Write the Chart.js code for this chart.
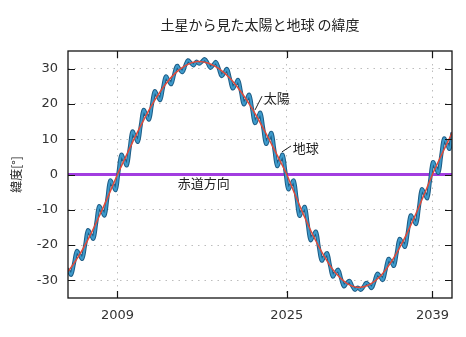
<!DOCTYPE html>
<html lang="ja">
<head>
<meta charset="utf-8">
<title>土星から見た太陽と地球の緯度</title>
<script src="https://cdn.jsdelivr.net/npm/chart.js@4.4.0/dist/chart.umd.min.js"></script>
<style>
  html, body { margin: 0; padding: 0; background: #fff; }
  #wrap { width: 466px; height: 337px; }
</style>
</head>
<body>
<div id="wrap"><canvas id="chart" width="466" height="337"></canvas></div>
<script>
// 太陽の緯度（土星の赤道基準）[年, 度]
const sunYears = [2004, 2005, 2006, 2007, 2008, 2009, 2009.6, 2010, 2011, 2012, 2013, 2014, 2015, 2016, 2017,
  2018, 2019, 2020, 2021, 2022, 2023, 2024, 2025, 2025.35, 2026, 2027, 2028, 2029, 2030, 2031, 2032,
  2033, 2034, 2035, 2036, 2037, 2038, 2038.9, 2039, 2040, 2041]
const sunLat = [-30.4, -27.5, -23.1, -17.6, -11.2, -4.3, 0, 2.6, 9.1, 15.2, 20.7, 25.3, 28.8, 31.0, 32.0,
  31.6, 30.1, 27.5, 23.8, 19.3, 14.0, 8.2, 2.2, 0, -4.8, -12.0, -18.5, -24.0, -28.3, -31.0, -32.0,
  -31.3, -29.0, -25.1, -19.9, -13.6, -6.6, 0, 0.7, 7.2, 13.5]

// 地球の緯度：会合周期の1/4ごと（衝・矩・合）
const earthStart = 2004.781
const earthStep = 0.2588
const earthLat = [
  -26.4, -27.3, -28.4, -25.2, -21.7, -22.8, -23.9, -20.0, -15.8, -17.0, -18.2, -13.7, -9.0, -10.3, -11.6, -6.7,
  -1.7, -3.0, -4.4, 0.7, 5.6, 4.1, 2.6, 7.4, 12.2, 10.7, 9.3, 13.9, 18.3, 16.9, 15.6, 19.7,
  23.6, 22.3, 21.1, 24.6, 27.8, 26.6, 25.6, 28.4, 30.8, 29.8, 29.0, 30.9, 32.4, 31.6, 30.9, 32.0,
  31.4, 32.0, 32.7, 31.6, 30.2, 31.0, 31.9, 30.1, 27.9, 28.8, 29.9, 27.3, 24.4, 25.5, 26.8, 23.5,
  19.9, 21.2, 22.6, 18.7, 14.6, 16.0, 17.5, 13.2, 8.7, 10.2, 11.8, 7.1, 2.4, 4.0, 5.6, 0.8,
  -4.2, -2.9, -1.7, -6.7, -11.7, -10.4, -9.2, -14.0, -18.6, -17.3, -16.2, -20.5, -24.4, -23.3, -22.3, -25.7,
  -28.9, -27.8, -27.0, -29.5, -31.7, -30.8, -30.1, -31.6, -32.7, -32.0, -32.7, -31.9, -30.7, -31.3, -32.2, -30.3,
  -28.1, -28.9, -29.9, -27.1, -23.9, -24.8, -25.9, -22.2, -18.3, -19.3, -20.5, -16.2, -11.6, -12.8, -14.0, -9.2,
  -4.2, -5.4, -6.7, -1.6, 3.5, 2.0, 0.5, 5.4, 10.2, 8.7, 7.3, 11.9, 16.5
]

// 赤道方向（緯度0）
const equatorYears = [2004, 2041]
const equatorLat = [0, 0]

// 目盛り：分点の時期に年を表示
const xTickYears = [2009.6, 2025.35, 2038.9]
const xTickLabels = ['2009', '2025', '2039']
const yTicks = [-30, -20, -10, 0, 10, 20, 30]

const sunPoints = sunYears.map((x, i) => ({ x: x, y: sunLat[i] }))
const earthPoints = earthLat.map((y, i) => ({ x: earthStart + i * earthStep, y: y }))
const equatorPoints = equatorYears.map((x, i) => ({ x: x, y: equatorLat[i] }))

const cjk = '"Noto Sans CJK JP", "Noto Sans", sans-serif'

// 枠・内向きの目盛り線・タイトルと注記
const decorations = {
  id: 'decorations',
  afterDraw(chart) {
    const { ctx, chartArea: a, scales: { x, y } } = chart
    ctx.save()
    ctx.strokeStyle = '#151515'
    ctx.lineWidth = 1.3
    ctx.strokeRect(a.left, a.top, a.right - a.left, a.bottom - a.top)

    ctx.lineWidth = 1.2
    ctx.beginPath()
    yTicks.forEach(v => {
      const py = Math.round(y.getPixelForValue(v)) + 0.5
      ctx.moveTo(a.left, py); ctx.lineTo(a.left + 7, py)
      ctx.moveTo(a.right, py); ctx.lineTo(a.right - 7, py)
    })
    xTickYears.forEach(v => {
      const px = Math.round(x.getPixelForValue(v)) + 0.5
      ctx.moveTo(px, a.bottom); ctx.lineTo(px, a.bottom - 7)
      ctx.moveTo(px, a.top); ctx.lineTo(px, a.top + 7)
    })
    ctx.stroke()

    ctx.fillStyle = '#222'
    ctx.font = '14px ' + cjk
    ctx.textAlign = 'center'
    ctx.textBaseline = 'middle'
    ctx.fillText('土星から見た太陽と地球 の緯度', (a.left + a.right) / 2, 25)

    ctx.save()
    ctx.translate(16, (a.top + a.bottom) / 2)
    ctx.rotate(-Math.PI / 2)
    ctx.font = '12px ' + cjk
    ctx.fillText('緯度[°]', 0, 0)
    ctx.restore()

    ctx.font = '13px ' + cjk
    ctx.textAlign = 'left'
    ctx.fillText('赤道方向', x.getPixelForValue(2015.2), y.getPixelForValue(-2.3))
    ctx.fillText('太陽', x.getPixelForValue(2023.2), y.getPixelForValue(21.7))
    ctx.fillText('地球', x.getPixelForValue(2025.9), y.getPixelForValue(7.5))

    ctx.strokeStyle = '#222'
    ctx.lineWidth = 1
    ctx.beginPath()
    ctx.moveTo(x.getPixelForValue(2022.4), y.getPixelForValue(18.3))
    ctx.lineTo(x.getPixelForValue(2023.05), y.getPixelForValue(22.2))
    ctx.moveTo(x.getPixelForValue(2024.9), y.getPixelForValue(6.4))
    ctx.lineTo(x.getPixelForValue(2025.75), y.getPixelForValue(8.1))
    ctx.stroke()
    ctx.restore()
  }
}

const tickFont = { family: '"DejaVu Sans", sans-serif', size: 13 }

new Chart(document.getElementById('chart'), {
  type: 'line',
  data: {
    datasets: [
      {
        label: '太陽',
        data: sunPoints,
        borderColor: '#e04a3a',
        borderWidth: 1.5,
        pointRadius: 0,
        tension: 0.4,
        clip: 0,
        order: 1
      },
      {
        label: '地球',
        data: earthPoints,
        borderColor: '#3d9acb',
        borderWidth: 2,
        pointRadius: 0,
        tension: 0.4,
        clip: 0,
        order: 2
      },
      {
        label: '地球（縁）',
        data: earthPoints,
        borderColor: '#1d5b84',
        borderWidth: 4,
        pointRadius: 0,
        tension: 0.4,
        clip: 0,
        order: 3
      },
      {
        label: '赤道方向',
        data: equatorPoints,
        borderColor: '#a23de0',
        borderWidth: 3,
        pointRadius: 0,
        clip: 0,
        order: 4
      }
    ]
  },
  options: {
    responsive: false,
    animation: false,
    events: [],
    layout: { padding: { left: 0, right: 14, top: 51, bottom: 0 } },
    plugins: {
      legend: { display: false },
      tooltip: { enabled: false }
    },
    scales: {
      x: {
        type: 'linear',
        min: 2005,
        max: 2040.72,
        afterBuildTicks: s => { s.ticks = xTickYears.map(v => ({ value: v })) },
        afterFit: s => { s.height = 39 },
        ticks: {
          callback: (v, i) => xTickLabels[i],
          padding: 10,
          font: tickFont,
          color: '#333',
          maxRotation: 0,
          autoSkip: false
        },
        grid: { color: '#bdbdbd', drawTicks: false },
        border: { display: false, dash: [1.5, 5] }
      },
      y: {
        min: -35,
        max: 35,
        afterBuildTicks: s => { s.ticks = yTicks.map(v => ({ value: v })) },
        afterFit: s => { s.width = 68 },
        ticks: { padding: 10, font: tickFont, color: '#333' },
        grid: { color: '#bdbdbd', drawTicks: false },
        border: { display: false, dash: [1.5, 5] }
      }
    }
  },
  plugins: [decorations]
})
</script>
</body>
</html>
